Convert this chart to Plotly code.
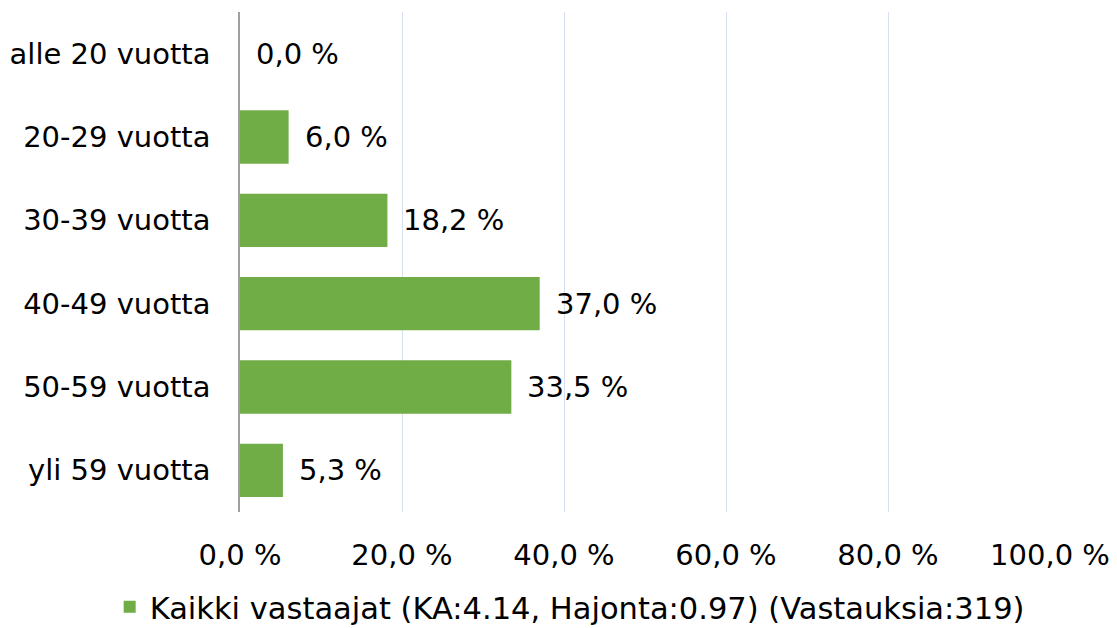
import plotly.graph_objects as go

categories = ["alle 20 vuotta", "20-29 vuotta", "30-39 vuotta", "40-49 vuotta", "50-59 vuotta", "yli 59 vuotta"]
values = [0.0, 6.0, 18.2, 37.0, 33.5, 5.3]
tick_vals = [0, 20, 40, 60, 80, 100]
tick_text = ["0,0 %", "20,0 %", "40,0 %", "60,0 %", "80,0 %", "100,0 %"]
series_name = "Kaikki vastaajat (KA:4.14, Hajonta:0.97) (Vastauksia:319)"

FONT = "DejaVu Sans, Verdana, sans-serif"
GREEN = "#70ad47"
FS = 29

fig = go.Figure()
fig.add_trace(go.Bar(
    y=categories, x=values, orientation="h",
    marker=dict(color=GREEN, line=dict(width=0)),
    name=series_name, showlegend=True, width=0.64,
))

for c, v in zip(categories, values):
    fig.add_annotation(
        x=v, y=c, xref="x", yref="y",
        text=f"{v:.1f} %".replace(".", ","),
        showarrow=False, xanchor="left", yanchor="middle", xshift=14,
        font=dict(family=FONT, size=FS, color="#000000"),
    )

fig.update_layout(
    width=1109, height=620,
    margin=dict(l=232, r=67, t=4, b=116, autoexpand=False),
    paper_bgcolor="white", plot_bgcolor="white",
    font=dict(family=FONT, size=FS, color="#000000"),
    bargap=0.36,
    showlegend=True,
    legend=dict(orientation="h", x=0.407, xanchor="center", y=-0.19, yanchor="middle",
                font=dict(family=FONT, size=30.5, color="#000000"), itemwidth=30),
    xaxis=dict(
        range=[0, 100], tickmode="array", tickvals=tick_vals, ticktext=tick_text,
        showgrid=True, gridcolor="#d6e0f0", gridwidth=1, zeroline=False,
        showline=False, ticks="outside", ticklen=17, tickcolor="rgba(0,0,0,0)",
        tickfont=dict(family=FONT, size=FS, color="#000000"), automargin=False,
    ),
    yaxis=dict(
        autorange="reversed", showgrid=False, zeroline=False,
        showline=True, linecolor="#a0a0a0", linewidth=1.5,
        ticks="outside", ticklen=22, tickcolor="rgba(0,0,0,0)",
        tickfont=dict(family=FONT, size=FS, color="#000000"), automargin=False,
    ),
)

fig.write_html("out.html")
